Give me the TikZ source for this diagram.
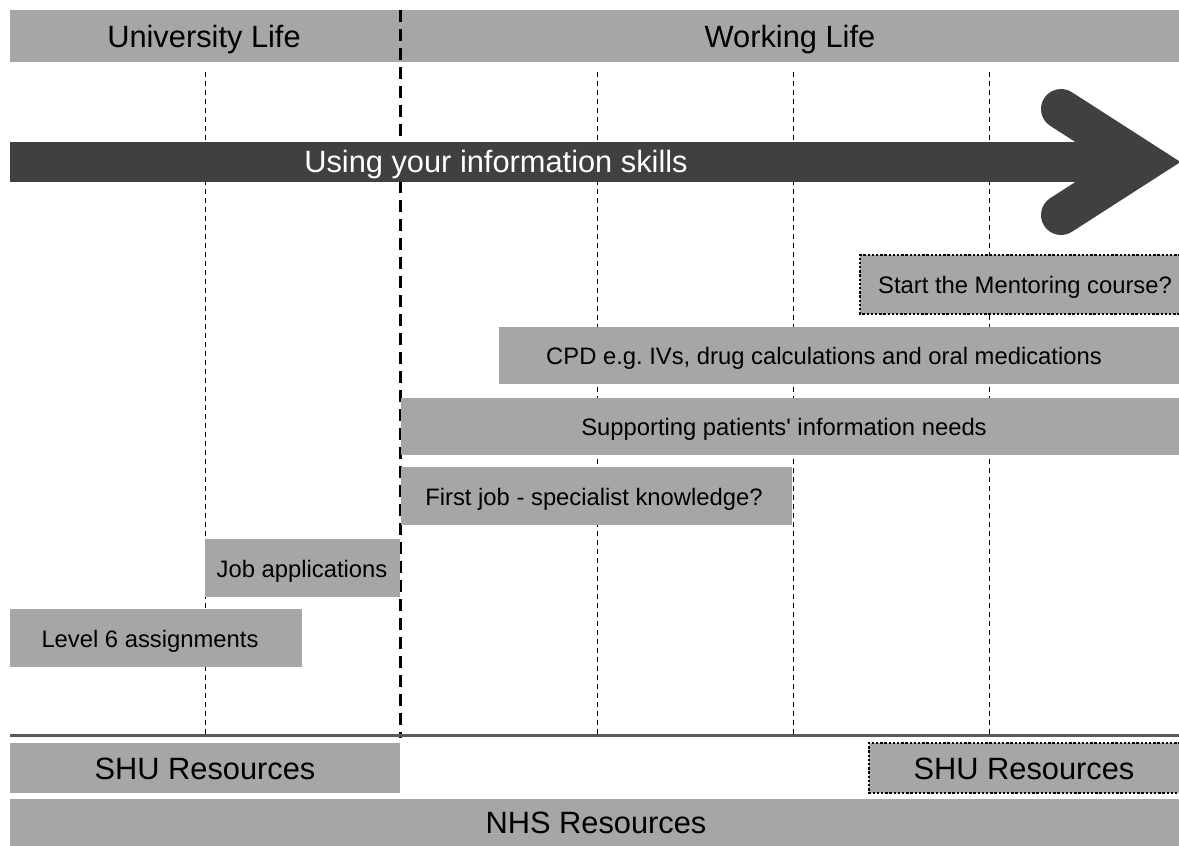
\documentclass[tikz,border=0pt]{standalone}
\usepackage{fontspec}
\setmainfont{Liberation Sans}
\frenchspacing
\definecolor{bargray}{HTML}{A6A6A6}
\definecolor{arrowgray}{HTML}{404040}
\definecolor{linegray}{HTML}{595959}
\tikzset{
  bar/.style = {fill = bargray},
  hint/.style = {draw = black, line width = 1.3pt, dash pattern = on 1.2pt off 0.9pt},
  guide/.style = {draw = black, line width = 0.5pt, dash pattern = on 2.5pt off 2pt},
  divide/.style = {draw = black, line width = 1.5pt, dash pattern = on 6pt off 3.5pt},
  big/.style = {anchor = base, inner sep = 0pt, font = \fontsize{15.4}{18}\selectfont},
  small/.style = {anchor = base, inner sep = 0pt, font = \fontsize{11.9}{14}\selectfont}
}
\begin{document}
\begin{tikzpicture}[x = 0.5pt, y = -0.5pt]
            \useasboundingbox (0, 0) rectangle (1179, 846);

            % header
            \fill[bar] (10, 10) rectangle (400, 62);
            \fill[bar] (400, 10) rectangle (1179, 62);
            \node[big] (uni) at (204, 47) {University Life};
            \node[big] (work) at (790, 47) {Working Life};

            % time guides
            \foreach \x in {205, 597, 793, 989}
                \draw[guide] (\x, 72) -- (\x, 735);
            \draw[divide] (400, 10) -- (400, 738);

            % the arrow
            \fill[arrowgray] (10, 142) rectangle (1144, 182);
            \draw[arrowgray, line width = 20pt, line cap = round, line join = miter]
                (1061, 109) -- (1143.5, 162) -- (1061, 215);
            \node[big, text = white] (skills) at (496, 172) {Using your information skills};

            % activities
            \fill[bar] (860, 255) rectangle (1179, 314);
            \draw[hint] (1185, 255) -- (860, 255) -- (860, 314) -- (1185, 314);
            \node[small] (mentor) at (1025, 293) {Start the Mentoring course?};

            \fill[bar] (499, 327) rectangle (1179, 384);
            \node[small] (cpd) at (824, 364) {CPD e.g. IVs, drug calculations and oral medications};

            \fill[bar] (401, 398) rectangle (1179, 455);
            \node[small] (patients) at (784, 435) {Supporting patients\textquotesingle{} information needs};

            \fill[bar] (401, 467) rectangle (792, 525);
            \node[small] (firstjob) at (594, 505) {First job - specialist knowledge?};

            \fill[bar] (205, 539) rectangle (400, 597);
            \node[small] (jobs) at (302, 577) {Job applications};

            \fill[bar] (10, 609) rectangle (302, 667);
            \node[small] (level) at (150, 647) {Level 6 assignments};

            % resources
            \draw[linegray, line width = 1.5pt] (10, 735) -- (1179, 735);

            \fill[bar] (10, 743) rectangle (400, 793);
            \node[big] (shuuni) at (205, 779) {SHU Resources};

            \fill[bar] (869, 743) rectangle (1179, 793);
            \draw[hint] (1185, 743) -- (869, 743) -- (869, 793) -- (1185, 793);
            \node[big] (shuwork) at (1024, 779) {SHU Resources};

            \fill[bar] (10, 799) rectangle (1179, 846);
            \node[big] (nhs) at (596, 833) {NHS Resources};
        \end{tikzpicture}
\end{document}
